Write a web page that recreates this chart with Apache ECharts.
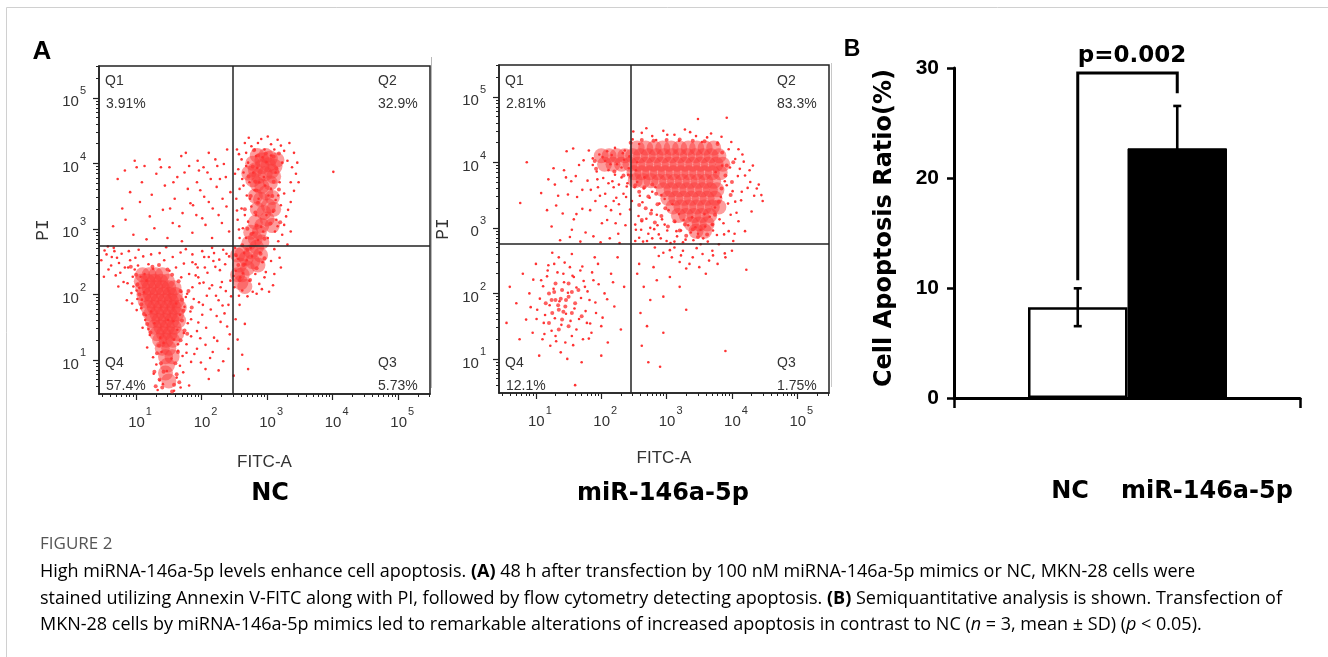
<!DOCTYPE html>
<html><head><meta charset="utf-8">
<script src="https://cdn.jsdelivr.net/npm/echarts@6/dist/echarts.min.js"></script>
<style>html,body{margin:0;padding:0;background:#fff}#c{width:1328px;height:657px}</style>
</head><body><div id="c"></div>
<script>
// ---------- DATA (flow plots in log10 units) ----------
const tickExponents = [1, 2, 3, 4, 5];
const ncYLabelBase = ['10', '10', '10', '10', '10'];
const mirYLabelBase = ['10', '10', '0', '10', '10'];
const xLabelBase = ['10', '10', '10', '10', '10'];
const gateNC = [2.466, 2.742];
const gateMiR = [2.45, 2.756];
const quadrantNames = ['Q1', 'Q2', 'Q3', 'Q4'];
const ncPercents = ['3.91%', '32.9%', '5.73%', '57.4%'];
const mirPercents = ['2.81%', '83.3%', '1.75%', '12.1%'];
const plotTitles = ['NC', 'miR-146a-5p'];

// dense regions
const ncCore = [[1.10,2.30],[1.20,2.30],[1.30,2.30],[1.40,2.30],[1.08,2.20],[1.18,2.20],[1.28,2.20],[1.38,2.20],[1.48,2.20],[1.10,2.10],[1.20,2.10],[1.30,2.10],[1.40,2.10],[1.50,2.10],[1.58,2.10],[1.12,2.00],[1.22,2.00],[1.32,2.00],[1.42,2.00],[1.52,2.00],[1.60,2.00],[1.14,1.90],[1.24,1.90],[1.34,1.90],[1.44,1.90],[1.54,1.90],[1.62,1.90],[1.18,1.80],[1.28,1.80],[1.38,1.80],[1.48,1.80],[1.58,1.80],[1.66,1.80],[1.22,1.70],[1.32,1.70],[1.42,1.70],[1.52,1.70],[1.62,1.70],[1.25,1.60],[1.35,1.60],[1.45,1.60],[1.55,1.60],[1.65,1.60],[1.28,1.50],[1.38,1.50],[1.48,1.50],[1.58,1.50],[1.32,1.40],[1.42,1.40],[1.52,1.40],[1.62,1.40],[1.36,1.30],[1.46,1.30],[1.56,1.30],[1.40,1.18],[1.50,1.18],[1.45,1.05],[1.55,1.05],[1.48,0.92],[1.45,0.80],[1.50,0.68],
[2.82,3.90],[2.92,3.95],[3.02,3.98],[2.87,3.80],[2.97,3.84],[3.07,3.88],[2.92,4.05],[3.05,4.08],[2.72,3.85],[2.78,4.00],[3.12,3.95],[3.15,4.05],[2.98,4.12],[2.85,4.12],[3.10,3.80],[2.78,3.75],
[2.92,3.05],[3.00,3.15],[2.95,3.25],[3.02,3.35],[2.90,3.45],[2.98,3.55],[2.92,3.65],[2.82,3.10],[3.08,3.05],[2.85,3.30],[3.10,3.30],[2.82,3.50],[3.08,3.48],[2.85,3.68],[3.05,3.70],
[2.62,2.30],[2.70,2.40],[2.78,2.50],[2.68,2.55],[2.76,2.65],[2.84,2.72],[2.72,2.78],[2.82,2.85],[2.88,2.95],[2.60,2.18],[2.66,2.12],[2.55,2.30],[2.58,2.45],[2.62,2.62],[2.90,2.60],[2.92,2.80],[2.75,2.95],[2.55,2.60],[2.86,2.45]];
// medium-density regions
const ncMid = [[1.32,1.10],[1.38,0.95],[1.42,0.82],[1.36,0.70],[1.40,0.58],[1.58,0.62],[1.62,0.78],[1.60,0.95],[1.64,1.12],[1.55,0.52],[1.30,0.60],[1.66,0.66],[1.35,1.22],[1.68,1.30],[1.28,0.82],[1.00,2.30],[1.02,2.15],[1.05,2.00],[1.08,1.85],[1.12,1.70],[1.17,1.55],[1.22,1.42],[1.70,1.60],[1.72,1.75],[1.70,1.92],[1.68,2.05],[1.65,2.20],[1.55,2.30],[1.48,2.38],[1.25,2.42],[1.35,2.45],[1.74,1.45],[0.92,2.42],[1.80,2.05],[1.85,1.80],[1.78,1.40],
[2.58,2.22],[2.64,2.45],[2.70,2.68],[2.76,2.92],[2.84,3.05],[2.82,3.25],[2.86,3.40],[2.84,3.58],[2.82,3.72],[2.78,3.95],[2.86,4.12],[2.98,4.15],[3.10,4.10],[3.14,3.92],[3.10,3.72],[3.08,3.50],[3.10,3.28],[3.05,3.08],[2.96,2.85],[2.90,2.62],[2.84,2.40],[2.74,2.22],[2.56,2.45],[2.62,2.75],[2.70,3.00],[2.75,3.50],[2.72,3.80],[3.18,3.60],[2.80,4.20],[3.18,4.15],[2.66,3.30],[3.20,3.10],[2.52,2.60],[2.96,2.55]];
// single events
const ncEvents = [[1.05,2.10],[0.95,2.27],[1.13,2.31],[1.02,1.93],[0.88,2.41],[1.19,2.46],[0.76,2.33],[0.71,2.56],[0.62,2.44],[0.55,2.61],[0.81,2.19],[0.93,2.02],[1.08,1.79],[1.14,1.61],[1.21,1.38],[1.17,1.19],[1.26,1.04],[1.31,0.93],[1.27,0.79],[1.36,0.69],[1.33,0.54],[1.41,0.63],[1.62,0.73],[1.67,0.91],[1.71,1.06],[1.64,1.24],[1.73,1.41],[1.79,1.56],[1.83,1.74],[1.76,1.96],[1.86,2.11],[1.69,2.26],[1.61,2.41],[1.51,2.36],[1.43,2.52],[1.91,2.29],[1.96,1.88],[2.01,1.69],[1.93,1.44],[2.06,1.23],[1.89,1.09],[1.99,0.96],[2.11,0.71],[2.16,2.14],[2.21,2.42],[2.04,2.57],[2.26,1.91],[2.31,2.19],[2.36,2.46],[2.41,1.84],[2.38,2.62],[2.29,1.58],[2.19,1.34],[2.43,1.39],[2.13,1.03],[2.33,0.98],[1.81,0.61],[1.58,0.53],[1.10,1.49],[1.01,1.76],[0.86,1.91],[1.23,2.61],[1.36,2.63],[1.56,2.57],[1.68,2.64],[0.66,2.71],[0.52,2.67],[0.99,2.56],[1.86,2.49],[2.01,2.66],[2.16,2.71],[1.76,2.69],[1.46,2.72],[1.61,1.86],[1.67,1.69],[1.57,1.59],[1.63,1.46],[1.58,1.31],[1.64,1.14],[1.42,1.26],[1.37,1.34],[1.28,1.56],[1.23,1.74],[1.69,2.04],[1.77,1.24],[1.84,1.36],[1.47,0.83],[1.54,1.02],[1.39,1.12],[1.49,1.61],[1.12,2.03],[0.98,2.38],[1.26,2.39],[2.08,1.98],[2.23,1.67],[1.94,2.41],[2.09,2.33],[2.27,2.53],[2.44,2.21],[2.35,1.71],
[0.47,2.52],[0.58,2.38],[0.63,2.57],[0.69,2.29],[0.74,2.48],[0.78,2.62],[0.83,2.41],[0.87,2.17],[0.91,2.52],[0.96,2.12],[1.03,2.44],[1.07,2.27],[1.11,2.58],[1.16,2.21],[0.57,2.73],[0.73,2.12],[0.89,2.66],[1.04,2.68],[0.51,2.27],[0.67,2.66],[0.94,1.86],[1.01,2.06],[1.09,1.92],[1.15,1.68],[1.19,1.47],
[1.74,1.81],[1.78,2.01],[1.81,2.31],[1.84,1.62],[1.88,1.93],[1.91,2.46],[1.95,1.57],[1.97,2.17],[2.02,1.84],[2.05,2.41],[2.07,1.49],[2.12,2.09],[2.14,1.77],[2.18,2.51],[2.22,1.98],[2.24,1.29],[2.28,2.37],[2.32,1.83],[2.37,2.05],[2.39,1.51],[2.42,2.58],[2.45,1.97],[1.73,2.47],[1.86,2.61],[2.03,2.18],[2.19,2.63],[2.33,2.68],[1.98,1.33],[2.17,1.12],[2.41,1.17],[1.72,0.81],[1.84,0.97],[1.93,1.17],[2.06,0.86],[2.26,0.84],[1.68,0.58],[1.77,1.11],[1.95,2.26],[2.11,2.57],[2.29,2.11],
[2.55,1.31],[2.62,1.08],[2.52,1.62],[2.71,0.86],[2.58,1.84],[2.66,1.55],[2.49,0.76],
[2.50,2.11],[2.52,2.36],[2.56,2.54],[2.51,2.71],[2.58,2.86],[2.63,3.01],[2.55,3.14],[2.61,3.31],[2.53,3.46],[2.58,3.61],[2.62,3.76],[2.56,3.91],[2.61,4.06],[2.68,4.16],[2.76,4.26],[2.86,4.31],[2.96,4.21],[3.06,4.29],[3.16,4.36],[3.26,4.19],[3.31,4.04],[3.38,3.94],[3.44,3.84],[3.36,3.71],[3.26,3.54],[3.21,3.36],[3.29,3.19],[3.16,3.04],[3.23,2.91],[3.11,2.69],[3.06,2.51],[2.98,2.34],[2.88,2.16],[2.78,2.04],[2.70,1.97],[2.62,2.06],[2.73,2.21],[2.82,2.31],[2.93,2.49],[2.75,2.71],[2.68,2.86],[2.79,2.94],[2.71,3.11],[2.83,3.21],[2.76,3.34],[2.69,3.51],[2.81,3.59],[2.73,3.71],[2.79,3.86],[2.71,4.01],[2.83,4.11],[2.93,4.09],[3.06,4.12],[3.13,3.86],[3.06,3.61],[3.13,3.44],[3.09,3.26],[3.01,2.86],[2.89,2.64],[3.19,3.71],[3.23,4.01],[2.66,2.46],[2.96,2.26],[3.03,2.04],[3.11,2.31],[3.19,2.56],[3.31,2.76],[3.36,3.41],[2.64,3.66],[2.54,4.21],[3.01,4.41],[2.87,3.46],[2.95,3.79],[3.41,4.16],[2.59,2.26],[2.65,2.63],[2.91,3.03],[3.14,3.14],[2.97,3.66],[2.85,3.93],
[2.49,2.28],[2.53,2.59],[2.57,2.99],[2.54,3.28],[2.51,3.84],[2.57,4.14],[2.66,4.31],[2.72,4.39],[2.91,4.37],[3.11,4.21],[3.21,4.27],[3.34,4.31],[3.46,4.01],[3.48,3.71],[3.41,3.58],[3.32,3.29],[3.26,3.06],[3.36,2.96],[3.17,2.81],[3.21,2.41],[3.09,2.14],[2.92,2.08],[2.84,2.01],[2.57,1.98],[2.63,2.32],[2.69,2.52],[2.77,2.58],[2.86,2.83],[2.94,2.96],[2.66,3.21],[2.74,3.46],[2.64,3.86],[2.68,3.96],[2.88,3.71],[3.02,3.51],[3.17,3.51],[2.99,3.21],[3.12,2.96],[2.81,4.21],[2.99,4.02],
[4.01,3.87],
[0.65,3.04],[0.79,3.31],[0.91,3.56],[0.84,3.14],[0.96,2.91],[1.06,3.41],[1.09,3.71],[1.13,3.96],[1.21,3.19],[1.24,3.52],[1.31,3.84],[1.36,4.06],[1.41,3.29],[1.44,3.66],[1.51,3.94],[1.56,3.09],[1.59,3.46],[1.63,3.79],[1.69,4.11],[1.71,3.24],[1.79,3.61],[1.81,3.96],[1.86,2.94],[1.87,3.36],[1.93,3.71],[1.94,4.04],[2.01,3.16],[2.04,3.49],[2.09,3.86],[2.11,4.16],[2.16,2.86],[2.17,3.31],[2.23,3.64],[2.24,3.96],[2.31,3.09],[2.32,3.46],[2.37,3.79],[2.39,4.21],[2.42,2.96],[2.44,3.56],[1.01,3.94],[0.72,3.76],[1.16,2.84],[1.48,2.86],[1.70,2.81],[1.57,3.71],[1.83,3.39],[2.03,3.94],[2.28,3.76],[1.38,3.94],[1.76,4.16],[1.98,3.59],[2.21,4.06],[2.38,3.34],[1.66,3.04],[1.92,3.21],[2.11,3.41],[1.28,3.01],[0.83,3.89],[0.98,4.04],[2.26,3.21],[2.06,3.06],[1.52,3.31],[1.96,3.89],[2.34,3.99],[1.74,3.86],[2.14,3.76]];

const mirCore = [[2.55,4.22],[2.68,4.22],[2.81,4.22],[2.94,4.22],[3.07,4.22],[3.20,4.22],[3.33,4.22],[3.46,4.22],[3.59,4.22],[3.72,4.22],
[2.00,4.10],[2.12,4.10],[2.24,4.10],[2.36,4.10],[2.48,4.10],[2.60,4.10],[2.72,4.10],[2.84,4.10],[2.96,4.10],[3.08,4.10],[3.20,4.10],[3.32,4.10],[3.44,4.10],[3.56,4.10],[3.68,4.10],[3.80,4.10],
[2.05,3.97],[2.18,3.97],[2.31,3.97],[2.44,3.97],[2.56,3.97],[2.68,3.97],[2.80,3.97],[2.92,3.97],[3.04,3.97],[3.16,3.97],[3.28,3.97],[3.40,3.97],[3.52,3.97],[3.64,3.97],[3.76,3.97],[3.86,3.97],
[2.50,3.84],[2.62,3.84],[2.74,3.84],[2.86,3.84],[2.98,3.84],[3.10,3.84],[3.22,3.84],[3.34,3.84],[3.46,3.84],[3.58,3.84],[3.70,3.84],[3.82,3.84],
[2.52,3.72],[2.64,3.72],[2.76,3.72],[2.88,3.71],[3.00,3.71],[3.12,3.71],[3.24,3.71],[3.36,3.71],[3.48,3.71],[3.60,3.71],[3.72,3.71],
[2.95,3.58],[3.07,3.58],[3.19,3.58],[3.31,3.58],[3.43,3.58],[3.55,3.58],[3.67,3.58],[3.77,3.58],
[3.02,3.45],[3.14,3.45],[3.26,3.45],[3.38,3.45],[3.50,3.45],[3.62,3.45],[3.74,3.45],
[3.10,3.32],[3.22,3.32],[3.34,3.32],[3.46,3.32],[3.58,3.32],[3.70,3.32],[3.80,3.32],
[3.18,3.19],[3.30,3.19],[3.42,3.19],[3.54,3.19],[3.66,3.19],[3.38,3.06],[3.50,3.06],[3.62,3.06],[3.45,2.95],[3.58,2.95]];
const mirMid = [[2.45,3.80],[2.52,3.65],[2.58,3.55],[2.66,3.62],[2.72,3.48],[2.78,3.66],[2.84,3.52],[2.68,3.30],[2.76,3.22],[2.86,3.36],[2.92,3.18],[2.98,3.30],[2.82,3.08],[3.02,3.02],[3.12,3.10],[3.20,2.96],[3.28,3.05],[3.30,2.88],[3.70,3.05],[3.74,3.20],[3.80,3.40],[3.84,3.60],[3.90,3.80],[3.92,3.95],[3.85,4.15],[3.78,4.28],[2.45,4.30],[2.62,4.34],[2.80,4.33],[3.00,4.34],[3.20,4.35],[3.40,4.33],[3.58,4.32],[1.90,4.02],[1.92,3.90],[2.20,3.86],[2.34,3.80],[3.48,2.86],[3.62,2.90],[3.40,2.98],[4.00,3.70],[4.02,4.00],[3.98,3.50],[2.58,3.35],[2.62,3.12],
[1.20,2.00],[1.30,1.90],[1.40,2.05],[1.50,1.95],[1.35,1.75],[1.45,1.80],[1.25,1.70],[1.55,1.70],[1.40,1.60],[1.60,1.85],[1.15,1.85],[1.30,2.15],[1.50,2.15],[1.65,2.05],[1.20,1.55],[1.50,1.50],[1.35,1.45],[1.70,1.65],[1.28,2.02],[1.38,1.92],[1.46,1.90],[1.34,1.82],[1.24,1.90],[1.42,1.72],[1.55,2.02]];
const mirEvents = [[2.48,4.35],[2.62,4.45],[2.78,4.40],[2.95,4.48],[3.12,4.42],[3.28,4.50],[3.45,4.40],[3.62,4.38],[3.78,4.30],[3.92,4.68],[3.48,4.66],[3.95,4.20],[4.05,4.05],[4.12,3.90],[4.20,3.80],[4.28,3.70],[4.38,3.60],[4.45,3.50],[4.15,3.55],[4.05,3.40],[3.98,3.20],[4.10,3.10],[3.95,2.95],[4.02,2.80],[3.88,2.90],[3.80,2.75],[3.70,2.65],[3.55,2.60],[3.40,2.55],[3.25,2.65],[3.12,2.70],[3.00,2.80],[2.88,2.90],[2.75,3.00],[2.62,3.10],[2.52,3.05],[2.58,2.85],[2.70,2.80],[2.82,2.70],[2.95,2.62],[3.08,2.55],[3.20,2.48],[3.35,2.45],[3.50,2.40],[3.65,2.50],[3.78,2.45],[3.90,2.55],[4.00,2.65],[4.20,2.95],[4.30,3.25],[2.55,3.70],[2.65,3.60],[2.78,3.55],[2.92,3.50],[2.55,4.00],[3.85,3.95],[3.92,3.65],[3.75,3.85],[4.22,2.36],[3.30,2.38],[3.60,2.30],[2.52,2.80],[4.10,4.20],[4.32,3.95],[3.15,2.95],[2.85,3.20],[3.70,3.05],[3.52,2.75],[3.25,2.78],
[2.47,3.41],[2.51,3.62],[2.53,3.88],[2.57,3.18],[2.61,2.97],[2.63,3.39],[2.66,3.77],[2.69,3.14],[2.72,2.91],[2.74,3.46],[2.77,3.27],[2.81,2.98],[2.83,3.62],[2.86,3.04],[2.89,3.37],[2.91,2.84],[2.93,3.13],[2.97,3.44],[3.01,2.96],[3.03,3.27],[3.06,2.77],[3.09,3.36],[3.13,3.09],[3.16,2.87],[3.19,3.21],[3.22,2.96],[3.26,3.12],[3.29,2.82],[3.33,3.04],[3.37,2.93],[3.41,2.81],[3.44,3.01],[3.48,2.91],[3.52,2.97],[3.56,2.84],[3.59,3.02],[3.63,2.79],[3.66,3.17],[3.71,2.96],[3.74,3.31],[3.77,2.89],[3.81,3.13],[3.83,3.47],[3.87,3.07],[3.89,3.71],[3.94,3.37],[3.97,3.92],[4.01,3.56],[4.07,3.23],[4.09,3.79],[4.14,3.42],[4.18,4.01],[4.24,3.61],[4.27,3.88],[4.34,3.49],[4.41,3.66],[4.47,3.41],[2.49,4.47],[2.58,4.28],[2.69,4.52],[2.84,4.34],[3.01,4.42],[3.19,4.33],[3.36,4.46],[3.54,4.31],[3.68,4.44],[3.84,4.39],[3.99,4.31],[4.16,4.12],[2.53,2.97],[2.59,3.49],[2.97,3.05],[3.12,2.79],[3.39,3.16],[3.58,3.21],[3.46,2.69],[3.71,2.58],[3.89,2.61],[4.04,2.91],[2.78,2.84],[3.22,2.58],[2.64,2.79],[3.05,2.66],[2.88,2.57],
[1.24,3.02],[1.31,3.34],[1.29,3.66],[1.43,3.88],[1.47,4.17],[1.52,2.86],[1.58,3.13],[1.63,3.47],[1.61,3.79],[1.73,4.03],[1.76,2.93],[1.83,3.27],[1.84,3.58],[1.93,3.86],[1.97,4.12],[2.01,3.07],[2.07,3.33],[2.11,3.68],[2.14,3.97],[2.21,4.22],[2.26,2.91],[2.29,3.21],[2.34,3.52],[2.41,3.81],[2.43,4.09],[1.19,3.74],[1.37,2.81],[1.66,3.96],[1.79,3.72],[1.91,3.41],[2.09,3.12],[2.23,3.46],[2.37,3.04],[1.49,3.51],[1.71,3.29],[1.87,4.06],[2.03,3.76],[2.17,3.71],[2.31,3.92],[2.13,2.84],[1.57,4.21],[0.76,3.38],[0.86,4.00],[1.68,2.79],[1.99,2.78],[2.28,2.77],[1.41,3.22],[1.95,3.62],[2.19,3.41],[2.39,3.63],[2.06,4.02],[1.81,4.18],[2.36,4.18],[1.54,3.71],[2.27,3.66],
[1.87,3.96],[1.94,3.74],[2.02,4.08],[2.06,3.52],[2.11,3.88],[2.16,4.11],[2.19,3.62],[2.24,3.97],[2.27,3.36],[2.31,3.77],[2.35,4.04],[2.38,3.47],[2.42,3.91],[2.44,3.28],[2.33,4.14],[2.21,3.81],[2.09,4.17],[1.98,3.49],[2.15,3.27],[2.40,3.68],[1.71,3.58],[1.62,3.21],[1.46,3.77],[1.34,3.49],[1.27,3.91],[1.55,2.97],[1.88,2.87],[2.22,3.07],[1.17,3.27],[1.08,3.53],
[0.60,2.10],[0.70,1.85],[0.80,2.30],[0.85,1.60],[0.90,2.00],[0.95,1.40],[1.00,2.45],[1.02,1.75],[1.08,2.20],[1.10,1.30],[1.12,1.55],[1.18,2.35],[1.22,1.20],[1.28,2.45],[1.30,1.35],[1.35,2.55],[1.38,1.10],[1.42,2.30],[1.45,1.25],[1.52,2.40],[1.55,1.35],[1.58,2.25],[1.62,1.45],[1.68,2.35],[1.72,1.30],[1.75,2.10],[1.78,1.55],[1.82,1.90],[1.85,1.40],[1.88,2.20],[1.92,1.70],[1.95,2.45],[2.00,1.50],[2.05,2.00],[2.10,1.25],[2.15,2.30],[2.20,1.80],[2.25,2.55],[2.30,1.45],[2.35,2.10],[1.05,1.05],[1.48,1.00],[1.70,0.95],[1.60,0.60],[2.00,1.05],[0.55,1.55],[0.75,1.30],[1.25,2.62],[1.55,2.60],[1.90,2.55],
[1.06,1.92],[1.11,2.11],[1.14,1.67],[1.17,2.26],[1.21,1.82],[1.24,1.43],[1.27,2.07],[1.29,1.62],[1.33,2.32],[1.36,1.88],[1.39,1.52],[1.43,2.17],[1.46,1.69],[1.49,2.01],[1.53,1.58],[1.56,2.27],[1.59,1.77],[1.62,2.09],[1.66,1.61],[1.69,1.93],[1.73,2.19],[1.76,1.73],[1.79,2.03],[1.83,1.54],[1.86,2.32],[1.91,1.86],[1.96,2.14],[2.02,1.63],[1.01,1.61],[0.96,2.21],[0.92,1.79],[1.19,2.43],[1.44,2.47],[1.71,2.41],[1.31,1.27],[1.57,1.21],[1.13,1.38],[1.81,1.31],[2.09,1.91],[2.18,2.17],
[2.55,2.30],[2.65,2.10],[2.75,1.90],[2.60,1.70],[2.85,2.20],[2.95,1.95],[2.70,1.50],[2.80,2.40],[3.05,2.25],[2.62,1.20],[2.72,0.95],[2.90,0.88],[2.58,2.45],[3.20,2.10],[3.30,1.75],[3.90,1.12],[2.95,1.40]];

// Panel B
const barCategories = ['NC', 'miR-146a-5p'];
const barMeans = [8.25, 22.7];
const barSD = [1.72, 3.85];
const barYTicks = [0, 10, 20, 30];
const pValueText = 'p=0.002';
const bracketLevels = [10.7, 29.55, 27.7]; // left start, top, right end

// ---------- BUILD ----------
const XR = [0.435, 5.485], YR = [0.48, 5.485];
const minorTicks = [];
for (let n = 0; n <= 5; n++) for (let k = 2; k <= 9; k++) {
  const v = n + Math.log10(k);
  if (v > XR[0] && v < YR[1]) minorTicks.push(v);
}
const supRich = {
  b: {fontSize: 15, color: '#333', fontFamily: 'Liberation Sans', verticalAlign: 'bottom', lineHeight: 18},
  s: {fontSize: 11, color: '#333', fontFamily: 'Liberation Sans', verticalAlign: 'bottom', padding: [0, 0, 13, 1]}
};
function labelFmt(bases) {
  return function (v) {
    const i = tickExponents.indexOf(Math.round(v));
    return '{b|' + bases[i] + '}{s|' + tickExponents[i] + '}';
  };
}
const frameColor = '#222';
const xAxes = [], yAxes = [], series = [];
function flowAxes(gi, yBases, nameGap) {
  xAxes.push({gridIndex: gi, type: 'value', position: 'bottom', min: XR[0], max: XR[1],
    name: 'FITC-A', nameLocation: 'middle', nameGap: nameGap,
    nameTextStyle: {fontSize: 17, color: '#333', fontFamily: 'Liberation Sans'},
    axisLine: {show: true, onZero: false, lineStyle: {color: frameColor, width: 1.5}},
    axisTick: {show: true, customValues: tickExponents, length: 6, lineStyle: {color: frameColor, width: 1.2}},
    axisLabel: {show: true, customValues: tickExponents, formatter: labelFmt(xLabelBase), rich: supRich, margin: 12, padding: [0, 0, 0, 8]},
    splitLine: {show: false}});
  xAxes.push({gridIndex: gi, type: 'value', position: 'bottom', offset: 0, min: XR[0], max: XR[1],
    axisLine: {show: false}, axisTick: {show: true, customValues: minorTicks, length: 3, lineStyle: {color: frameColor, width: 1}},
    axisLabel: {show: false}, splitLine: {show: false}});
  yAxes.push({gridIndex: gi, type: 'value', position: 'left', min: YR[0], max: YR[1],
    name: 'PI', nameLocation: 'middle', nameGap: 47, nameRotate: 90,
    nameTextStyle: {fontSize: 18, color: '#333', fontFamily: 'Liberation Mono'},
    axisLine: {show: true, onZero: false, lineStyle: {color: frameColor, width: 1.5}},
    axisTick: {show: true, customValues: tickExponents, length: 6, lineStyle: {color: frameColor, width: 1.2}},
    axisLabel: {show: true, customValues: tickExponents, formatter: labelFmt(yBases), rich: supRich, margin: 13},
    splitLine: {show: false}});
  yAxes.push({gridIndex: gi, type: 'value', position: 'left', offset: 0, min: YR[0], max: YR[1],
    axisLine: {show: false}, axisTick: {show: true, customValues: minorTicks, length: 3, lineStyle: {color: frameColor, width: 1}},
    axisLabel: {show: false}, splitLine: {show: false}});
}
flowAxes(0, ncYLabelBase, 60);
flowAxes(1, mirYLabelBase, 57);

function flowSeries(axisIdx, core, mid, events, gate) {
  series.push({type: 'scatter', xAxisIndex: axisIdx, yAxisIndex: axisIdx, data: core, symbolSize: 15,
    itemStyle: {color: 'rgb(252,58,58)', opacity: 0.5}, silent: true, z: 2});
  series.push({type: 'scatter', xAxisIndex: axisIdx, yAxisIndex: axisIdx, data: mid, symbolSize: 4,
    itemStyle: {color: 'rgb(255,55,55)', opacity: 0.8}, silent: true, z: 3});
  series.push({type: 'scatter', xAxisIndex: axisIdx, yAxisIndex: axisIdx, data: events, symbolSize: 2.6,
    itemStyle: {color: 'rgb(255,50,50)', opacity: 1}, silent: true, z: 4,
    markLine: {silent: true, symbol: 'none', label: {show: false}, animation: false,
      lineStyle: {color: frameColor, width: 1.5, type: 'solid'},
      data: [{xAxis: gate[0]}, {yAxis: gate[1]}]}});
}
flowSeries(0, ncCore, ncMid, ncEvents, gateNC);
flowSeries(2, mirCore, mirMid, mirEvents, gateMiR);

// Panel B axes: frame grid (2) and bar grid (3)
xAxes.push({gridIndex: 2, type: 'value', min: 0, max: 1, interval: 1,
  axisLine: {show: true, lineStyle: {color: '#000', width: 3}},
  axisTick: {show: true, length: 10, lineStyle: {color: '#000', width: 2.5}},
  axisLabel: {show: false}, splitLine: {show: false}});
yAxes.push({gridIndex: 2, type: 'value', min: barYTicks[0], max: barYTicks[barYTicks.length - 1], interval: 10,
  name: 'Cell Apoptosis Ratio(%)', nameLocation: 'middle', nameGap: 57, nameRotate: 90,
  nameTextStyle: {fontSize: 24, fontWeight: 'bold', color: '#000', fontFamily: 'DejaVu Sans', padding: [0, 0, 0, 10]},
  axisLine: {show: true, lineStyle: {color: '#000', width: 3}},
  axisTick: {show: true, length: 7, lineStyle: {color: '#000', width: 2.5}},
  axisLabel: {margin: 15, fontSize: 21, color: '#000', fontFamily: 'Liberation Sans Narrow, Liberation Sans', fontWeight: 'bold'},
  splitLine: {show: false}});
xAxes.push({gridIndex: 3, type: 'category', data: barCategories, show: false, boundaryGap: true});
yAxes.push({gridIndex: 3, type: 'value', min: 0, max: 30, show: false});

const barStyles = [
  {color: '#fff', borderColor: '#000', borderWidth: 2.5},
  {color: '#000', borderColor: '#000', borderWidth: 1}
];
series.push({type: 'bar', xAxisIndex: 5, yAxisIndex: 5, barCategoryGap: '0%', barGap: '0%',
  data: barMeans.map((v, i) => ({value: v, itemStyle: barStyles[i]})), silent: true, z: 2});
series.push({type: 'custom', xAxisIndex: 5, yAxisIndex: 5, silent: true, z: 5,
  data: barMeans.map((m, i) => [i, m - barSD[i], m + barSD[i]]),
  renderItem: function (params, api) {
    const hi = api.coord([api.value(0), api.value(2)]);
    const lo = api.coord([api.value(0), api.value(1)]);
    const c = 4, st = {stroke: '#000', lineWidth: 2.6};
    return {type: 'group', children: [
      {type: 'line', shape: {x1: hi[0], y1: hi[1], x2: lo[0], y2: lo[1]}, style: st},
      {type: 'line', shape: {x1: hi[0] - c, y1: hi[1], x2: hi[0] + c, y2: hi[1]}, style: st},
      {type: 'line', shape: {x1: lo[0] - c, y1: lo[1], x2: lo[0] + c, y2: lo[1]}, style: st}
    ]};
  }});
series.push({type: 'custom', xAxisIndex: 5, yAxisIndex: 5, silent: true, z: 6,
  data: [[0, 1, bracketLevels[0], bracketLevels[1], bracketLevels[2]]],
  renderItem: function (params, api) {
    const a = api.coord([api.value(0), api.value(2)]);
    const t1 = api.coord([api.value(0), api.value(3)]);
    const t2 = api.coord([api.value(1), api.value(3)]);
    const b = api.coord([api.value(1), api.value(4)]);
    return {type: 'polyline', shape: {points: [a, t1, t2, b]}, style: {stroke: '#000', lineWidth: 3, fill: null}};
  }});

// ---------- GRAPHIC TEXT ----------
const g = [];
const gl = (x1, y1, x2, y2, c) => g.push({type: 'line', silent: true, shape: {x1, y1, x2, y2}, style: {stroke: c, lineWidth: 1}});
gl(6.5, 7.5, 1328, 7.5, '#d0d0d0');
gl(6.5, 7.5, 6.5, 657, '#d0d0d0');
gl(431.5, 57, 431.5, 388, '#b8b8b8');
gl(831.5, 63, 831.5, 387, '#c8c8c8');
const gt = (x, y, text, font, fill, align) => g.push({type: 'text', silent: true, x, y,
  style: {text, font, fill, textAlign: align || 'left', textVerticalAlign: 'middle'}});
gt(42, 52, 'A', 'bold 26px "Liberation Sans"', '#000', 'center');
gt(852, 50, 'B', 'bold 23px "Liberation Sans"', '#000', 'center');
const qFont = '14px "Liberation Sans"';
function quadLabels(lx, rx, perc) {
  gt(lx, 81, quadrantNames[0], qFont, '#333');
  gt(lx + 1, 104, perc[0], qFont, '#333');
  gt(rx, 81, quadrantNames[1], qFont, '#333');
  gt(rx, 104, perc[1], qFont, '#333');
  gt(lx, 363, quadrantNames[3], qFont, '#333');
  gt(lx + 1, 386, perc[3], qFont, '#333');
  gt(rx, 363, quadrantNames[2], qFont, '#333');
  gt(rx, 386, perc[2], qFont, '#333');
}
quadLabels(105, 378, ncPercents);
quadLabels(505, 777, mirPercents);
const bigBold = 'bold 24px "DejaVu Sans"';
gt(270, 494, plotTitles[0], bigBold, '#000', 'center');
gt(663, 494, plotTitles[1], bigBold, '#000', 'center');
gt(1070, 492, barCategories[0], bigBold, '#000', 'center');
gt(1207, 492, barCategories[1], bigBold, '#000', 'center');
gt(1132, 56, pValueText, 'bold 23px "DejaVu Sans"', '#000', 'center');

gt(40, 544, 'FIGURE 2', '17px "Open Sans"', '#555');
const capRich = {
  r: {fontSize: 18, fontFamily: 'Open Sans', color: '#666'},
  b: {fontSize: 18, fontFamily: 'Open Sans', fontWeight: 'bold', color: '#555'},
  i: {fontSize: 18, fontFamily: 'Open Sans', fontStyle: 'italic', color: '#666'}
};
const capLines = [
  '{r|High miRNA-146a-5p levels enhance cell apoptosis. }{b|(A)}{r| 48 h after transfection by 100 nM miRNA-146a-5p mimics or NC, MKN-28 cells were}',
  '{r|stained utilizing Annexin V-FITC along with PI, followed by flow cytometry detecting apoptosis. }{b|(B)}{r| Semiquantitative analysis is shown. Transfection of}',
  '{r|MKN-28 cells by miRNA-146a-5p mimics led to remarkable alterations of increased apoptosis in contrast to NC (}{i|n}{r| = 3, mean ± SD) (}{i|p}{r| < 0.05).}'
];
[572, 599, 625].forEach((y, i) => g.push({type: 'text', silent: true, x: 40, y,
  style: {text: capLines[i], rich: capRich, textAlign: 'left', textVerticalAlign: 'middle'}}));

const chart = echarts.init(document.getElementById('c'), null, {renderer: 'canvas'});
chart.setOption({
  animation: false,
  backgroundColor: '#fff',
  grid: [
    {left: 99, top: 66, width: 331, height: 328, show: true, borderColor: frameColor, borderWidth: 1.5, backgroundColor: 'transparent'},
    {left: 499, top: 65, width: 330, height: 328, show: true, borderColor: frameColor, borderWidth: 1.5, backgroundColor: 'transparent'},
    {left: 954, top: 68, width: 346, height: 330},
    {left: 1028, top: 68, width: 199, height: 330}
  ],
  xAxis: xAxes, yAxis: yAxes, series: series, graphic: g
});
</script></body></html>
